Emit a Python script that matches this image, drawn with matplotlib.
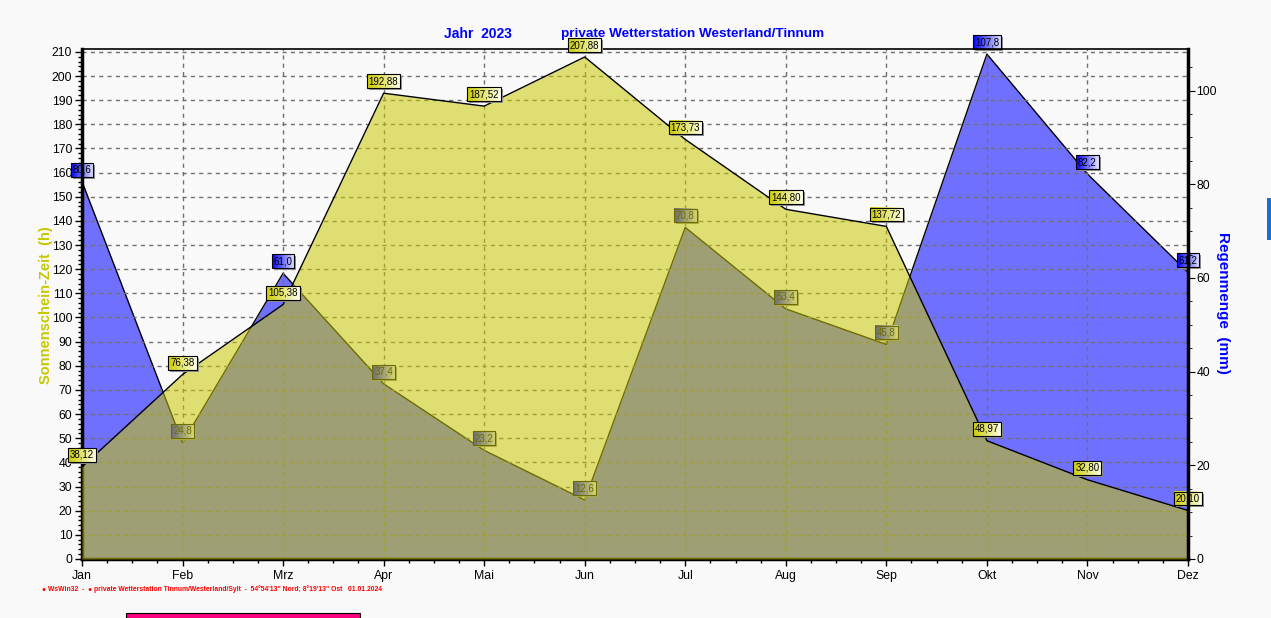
import numpy as np
import matplotlib
matplotlib.use("Agg")
import matplotlib.pyplot as plt
from matplotlib.ticker import MultipleLocator
from matplotlib.patches import Rectangle

plt.rcParams['font.family'] = ['Liberation Sans', 'DejaVu Sans']

# Daten 2023
months = ['Jan', 'Feb', 'Mrz', 'Apr', 'Mai', 'Jun', 'Jul', 'Aug', 'Sep', 'Okt', 'Nov', 'Dez']
sun_hours = [38.12, 76.38, 105.38, 192.88, 187.52, 207.88, 173.73, 144.80, 137.72, 48.97, 32.80, 20.10]
rain_mm = [80.6, 24.8, 61.0, 37.4, 23.2, 12.6, 70.8, 53.4, 45.8, 107.8, 82.2, 61.2]

SUN_MAX = 211.0
RAIN_MAX = 108.8

x = np.arange(len(months))
rain_scaled = np.array(rain_mm) * SUN_MAX / RAIN_MAX

fig = plt.figure(figsize=(12.71, 6.18), dpi=100, facecolor='#f9f9f9')
ax = fig.add_axes([0.0645, 0.0955, 0.8702, 0.8245])
ax.set_facecolor('#f9f9f9')

# Regen (blau) unten
ax.fill_between(x, 0, rain_scaled, color='#7070ff', lw=0, zorder=1)
ax.plot(x, rain_scaled, color='black', lw=1, zorder=1.1)

# Sonne (gelb, halbtransparent) darueber
ax.fill_between(x, 0, sun_hours, color=(200/255, 200/255, 0), alpha=0.54, lw=0, zorder=3)
ax.plot(x, sun_hours, color='black', lw=1, zorder=3.1)

ax.set_xlim(0, len(months) - 1)
ax.set_ylim(0, SUN_MAX)
ax.set_xticks(x)
ax.set_xticklabels(months)
ax.xaxis.set_minor_locator(MultipleLocator(0.25))
ax.yaxis.set_major_locator(MultipleLocator(10))
ax.yaxis.set_minor_locator(MultipleLocator(2))
ax.tick_params(axis='both', which='major', direction='out', length=5, width=1, labelsize=8.8, pad=2)
ax.tick_params(axis='both', which='minor', direction='out', length=3, width=1)
ax.tick_params(axis='x', pad=3)
ax.set_axisbelow('line')
ax.grid(True, which='major', color='#707070', linestyle=(0, (3, 3)), lw=1)

for s in ['left', 'bottom']:
    ax.spines[s].set_linewidth(2.5)
ax.spines['top'].set_linewidth(1.2)
ax.spines['right'].set_visible(False)

ax2 = ax.twinx()
ax2.set_ylim(0, RAIN_MAX)
ax2.yaxis.set_major_locator(MultipleLocator(20))
ax2.yaxis.set_minor_locator(MultipleLocator(5))
ax2.tick_params(axis='y', which='major', direction='out', length=5, labelsize=8.8, pad=1)
ax2.tick_params(axis='y', which='minor', direction='out', length=3)
for s in ['left', 'top', 'bottom']:
    ax2.spines[s].set_visible(False)
ax2.spines['right'].set_linewidth(2.5)

# Wertelabels
labels = []
for i, v in enumerate(rain_mm):
    t = ax.annotate(f"{v:.1f}".replace('.', ','), (x[i], rain_scaled[i]), xytext=(0, 8.6),
                    textcoords='offset points', ha='center', va='center', fontsize=7,
                    zorder=2.3, annotation_clip=False,
                    bbox=dict(boxstyle='square,pad=0.2', fc='none', ec='black', lw=0.8))
    labels.append((t, (0.0, 0.0, 1.0), (0.9, 0.9, 1.0), 2.0))
for i, v in enumerate(sun_hours):
    t = ax.annotate(f"{v:.2f}".replace('.', ','), (x[i], sun_hours[i]), xytext=(0, 8.6),
                    textcoords='offset points', ha='center', va='center', fontsize=7,
                    zorder=5.3, annotation_clip=False,
                    bbox=dict(boxstyle='square,pad=0.2', fc='none', ec='black', lw=0.8))
    labels.append((t, (0.8, 0.8, 0.0), (1.0, 1.0, 0.94), 5.0))

fig.canvas.draw()
renderer = fig.canvas.get_renderer()
inv = ax.transData.inverted()
grad = np.linspace(0, 1, 64)
for t, c0, c1, z in labels:
    bb = t.get_bbox_patch().get_window_extent(renderer)
    (x0, y0), (x1, y1) = inv.transform([[bb.x0, bb.y0], [bb.x1, bb.y1]])
    (sx0, sy0), (sx1, sy1) = inv.transform([[bb.x0 + 2, bb.y0 - 2], [bb.x1 + 2, bb.y1 - 2]])
    shadow = Rectangle((sx0, sy0), sx1 - sx0, sy1 - sy0, fc='#909090', ec='none',
                       zorder=z, clip_on=False)
    ax.add_patch(shadow)
    img = (np.array(c0)[None, None, :] * (1 - grad)[None, :, None]
           + np.array(c1)[None, None, :] * grad[None, :, None])
    im = ax.imshow(img, extent=(x0, x1, y0, y1), aspect='auto', zorder=z + 0.1,
                   interpolation='bilinear')
    im.set_clip_on(False)

ax.set_xlim(0, len(months) - 1)
ax.set_ylim(0, SUN_MAX)

# Titel und Achsenbeschriftungen
fig.text(478 / 1271, 1 - 34 / 618, 'Jahr  2023', color='#0000ff', fontsize=10,
         fontweight='bold', ha='center', va='center')
fig.text(693 / 1271, 1 - 34 / 618, 'private Wetterstation Westerland/Tinnum', color='#0000ff',
         fontsize=9.7, fontweight='bold', ha='center', va='center')
fig.text(46 / 1271, 1 - 305 / 618, 'Sonnenschein-Zeit  (h)', color='#c8c800', fontsize=10.5,
         fontweight='bold', rotation=90, ha='center', va='center')
fig.text(1223 / 1271, 1 - 303 / 618, 'Regenmenge  (mm)', color='#0000ff', fontsize=11,
         fontweight='bold', rotation=-90, ha='center', va='center')
fig.text(42 / 1271, 1 - 589 / 618,
         '\u25cf WsWin32  -  \u25cf private Wetterstation Tinnum/Westerland/Sylt  -  '
         '54\u00b054\'13" Nord; 8\u00b019\'13" Ost   01.01.2024',
         color='#ff0000', fontsize=4.9, fontweight='bold', ha='left', va='center')

# Reste vom Bildschirmfoto
fig.patches.append(Rectangle((126 / 1271, 0), 234 / 1271, 5 / 618, transform=fig.transFigure,
                             fc='#ff0080', ec='black', lw=0.8))
fig.patches.append(Rectangle((1267 / 1271, 1 - 240 / 618), 4 / 1271, 42 / 618,
                             transform=fig.transFigure, fc='#1a70d0', ec='none'))

fig.savefig('out.png', dpi=100, facecolor=fig.get_facecolor())
